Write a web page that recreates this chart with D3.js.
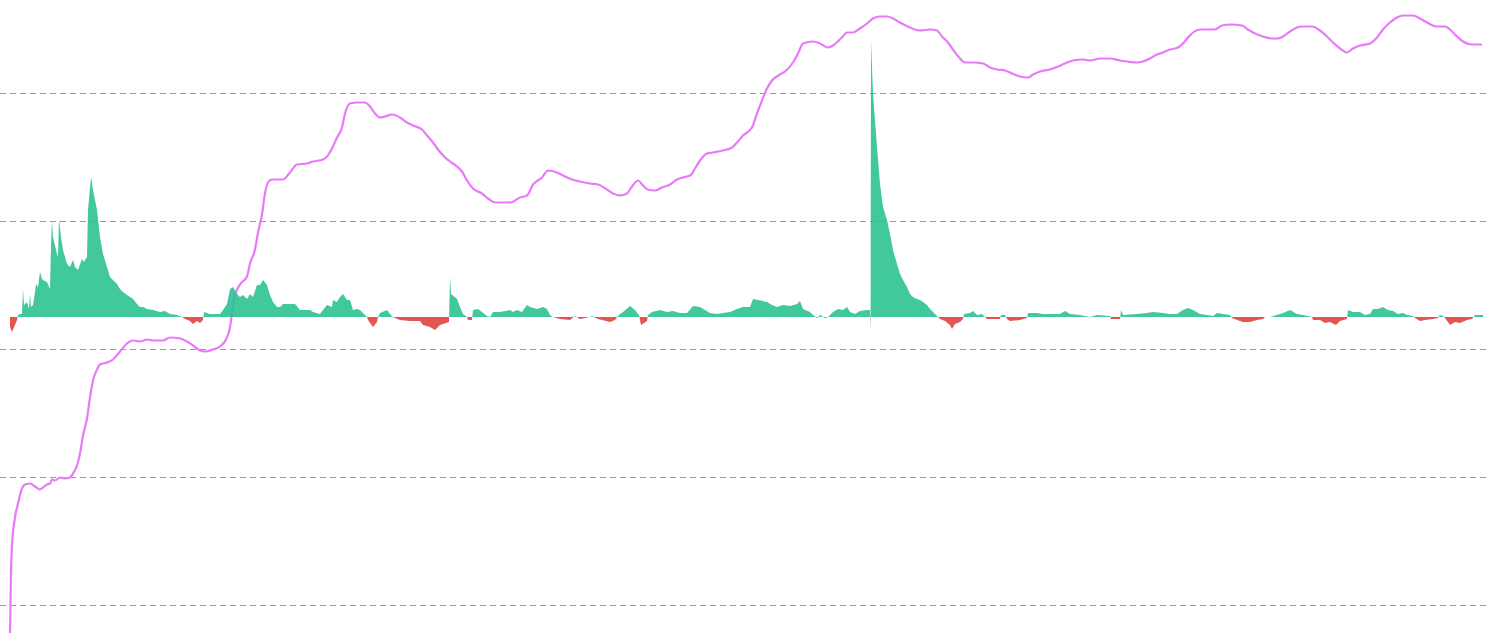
<!DOCTYPE html>
<html>
<head>
<meta charset="utf-8">
<script src="https://cdn.jsdelivr.net/npm/d3@7"></script>
<style>
  html, body { margin: 0; padding: 0; background: #ffffff; }
  svg { display: block; }
</style>
</head>
<body>
<svg id="chart" width="1490" height="633"></svg>
<script>
// ---- data ----
// day index along the time axis
const flowDays = [0,2,5,7,8,10,12,13,14,17,19,20,21,23,25,26,28,30,32,33,37,40,41,42,43,47,48,49,51,53,57,60,63,65,68,72,74,77,78,81,83,87,90,93,97,100,103,107,110,113,117,120,123,127,130,133,137,143,150,155,160,167,172,175,180,183,187,190,193,194,200,210,213,217,220,223,227,230,233,237,240,243,247,250,253,257,260,263,267,270,273,280,285,290,300,303,310,313,317,322,323,327,330,333,337,340,343,347,350,355,357,358,363,367,368,370,377,380,383,385,390,400,410,413,420,425,430,439,440,441,447,450,453,457,458,462,463,468,472,477,480,483,490,500,503,507,512,517,520,527,533,537,540,543,550,560,565,570,580,582,588,600,605,608,610,613,620,625,629,631,637,638,642,650,657,663,670,677,683,690,695,700,707,713,720,727,733,740,743,748,757,762,767,773,780,787,790,793,800,803,807,810,815,818,823,828,833,837,840,845,850,857,860,860.6,861,863,867,870,873,877,880,883,887,890,893,897,900,903,907,910,913,917,920,923,927,930,935,940,942,945,950,953,954,960,963,967,972,975,977,990,991,995,997,1000,1010,1017,1018,1027,1033,1043,1050,1055,1060,1070,1080,1087,1100,1101,1110,1111,1113,1127,1137,1143,1153,1160,1167,1173,1178,1183,1190,1197,1203,1207,1213,1220,1222,1230,1233,1240,1247,1253,1255,1260,1270,1273,1280,1287,1293,1302,1303,1310,1315,1320,1326,1330,1337,1338,1343,1350,1355,1360,1363,1368,1373,1378,1383,1388,1393,1397,1403,1405,1410,1415,1423,1428,1430,1433,1435,1440,1445,1450,1457,1462,1465,1473];
// net flow (positive = green, negative = red)
const flowValues = [-10,-15,-8,-3,2,3,3,28,12,15,8,23,10,12,25,33,30,45,38,37,35,28,70,97,80,63,60,98,80,67,53,50,57,50,47,58,55,60,107,140,127,107,80,63,50,40,37,33,28,25,22,20,18,13,10,10,8,7,5,6,3,2,0,-2,-4,-7,-4,-6,-3,5,3,3,7,13,28,30,23,20,22,18,23,20,32,32,37,32,22,15,10,10,13,13,13,7,7,5,3,7,12,10,17,15,20,23,17,17,7,8,7,2,0,-3,-10,-5,0,4,7,3,0,-1,-3,-4,-4,-8,-10,-13,-8,-5,40,23,18,10,3,0,-3,-3,7,8,5,1,0,5,5,7,5,7,5,12,10,8,10,8,2,0,-2,-3,1,-2,0,1,-2,-5,-3,1,3,5,11,7,2,-8,-4,2,5,7,5,6,4,4,11,10,7,4,3,4,5,8,10,10,18,17,15,12,10,12,11,13,16,8,5,2,-1,2,-1,0,5,8,7,10,5,3,6,7,7,-13,276,223,170,133,110,97,83,67,53,43,37,30,23,20,18,17,15,12,8,5,1,-2,-4,-8,-12,-7,-5,-2,3,4,6,2,3,0,-2,-2,2,2,-2,-4,-3,-1,4,4,3,3,3,6,3,2,0,2,1,-2,-2,7,2,3,4,5,4,3,3,7,9,7,3,2,1,4,3,2,-1,-4,-5,-5,-3,-2,0,0,3,4,7,3,2,0,-3,-3,-6,-5,-8,-4,-2,7,5,5,2,3,8,8,10,7,6,3,4,2,1,-1,-4,-3,-2,-1,2,1,-1,-8,-5,-6,-3,-2,2,2];
// price-like line
const priceDays = [0,1,2,5,8,12,15,20,25,30,33,37,40,42,45,50,55,60,63,67,70,73,77,80,83,87,90,97,103,110,117,123,130,137,143,153,160,170,177,183,190,195,203,210,217,220,222,225,230,237,240,245,248,252,255,258,262,273,280,287,297,303,313,317,322,327,332,335,340,347,355,360,365,370,375,382,390,397,403,412,417,423,428,435,440,447,452,457,463,472,478,485,500,510,517,523,532,538,547,553,562,570,580,588,597,603,610,617,622,628,633,638,645,652,660,667,673,680,685,690,697,703,713,722,727,733,742,747,752,757,762,770,775,783,788,793,803,810,818,823,832,837,843,850,857,863,870,877,883,890,900,910,920,927,932,938,945,950,955,963,973,980,987,995,1002,1010,1018,1023,1030,1040,1048,1055,1063,1073,1080,1090,1100,1110,1117,1127,1133,1140,1147,1153,1160,1168,1173,1178,1183,1190,1205,1212,1220,1232,1238,1245,1253,1262,1268,1273,1280,1287,1293,1302,1310,1317,1323,1330,1337,1343,1350,1360,1367,1373,1380,1387,1393,1403,1410,1417,1427,1435,1440,1447,1453,1462,1472];
const priceValues = [-28,32,60,88,102,117,121,122,119,116,118,121,122,126,125,128,127,128,132,140,152,170,187,208,225,236,241,243,246,254,262,265,264,266,265,265,268,267,264,260,255,254,256,259,268,278,292,310,321,329,342,356,373,391,412,423,426,426,433,441,442,444,446,449,457,468,478,492,502,503,503,499,492,488,489,491,488,483,480,476,470,463,456,448,444,439,434,425,417,412,407,403,403,408,410,421,428,435,433,430,426,424,422,421,416,412,410,412,419,425,420,416,415,418,421,426,428,430,437,445,452,453,455,458,463,470,478,492,505,517,525,531,534,543,552,562,564,562,558,560,568,573,573,577,582,587,589,589,587,583,578,575,576,575,569,563,553,547,543,543,542,538,536,535,532,529,528,531,534,536,539,542,545,546,545,547,547,545,544,543,544,547,551,553,556,558,562,568,573,576,576,580,581,580,576,572,569,567,567,569,574,578,579,579,575,569,563,557,553,557,560,562,568,576,583,588,590,590,587,583,579,579,576,569,564,561,561];
const gridTicks = [0, 128, 256, 384, 512];

// ---- chart ----
const W = 1490, H = 633;
const svg = d3.select("#chart");

const x = d3.scaleLinear().domain([0, 1473]).range([10, 1483]);
const yPrice = d3.scaleLinear().domain([0, 512]).range([605.5, 93.5]);
const yFlow = d3.scaleLinear().domain([0, 276]).range([317, 41]);

// grid
svg.append("g").selectAll("line").data(gridTicks).join("line")
  .attr("x1", 0).attr("x2", 1488)
  .attr("y1", d => yPrice(d)).attr("y2", d => yPrice(d))
  .attr("stroke", "#9a9a9a").attr("stroke-width", 1)
  .attr("stroke-dasharray", "6,4");

const defs = svg.append("defs");
defs.append("clipPath").attr("id", "plotClip").append("rect")
  .attr("x", 0).attr("y", 0).attr("width", W).attr("height", H);
defs.append("clipPath").attr("id", "posClip").append("rect")
  .attr("x", 0).attr("y", 0).attr("width", W).attr("height", yFlow(0));
defs.append("clipPath").attr("id", "negClip").append("rect")
  .attr("x", 0).attr("y", yFlow(0)).attr("width", W).attr("height", H - yFlow(0));

// price line
const priceData = priceDays.map((d, i) => [d, priceValues[i]]);
svg.append("path")
  .datum(priceData)
  .attr("clip-path", "url(#plotClip)")
  .attr("fill", "none")
  .attr("stroke", "#e879f9")
  .attr("stroke-width", 2.2)
  .attr("stroke-linejoin", "round")
  .attr("d", d3.line().x(d => x(d[0])).y(d => yPrice(d[1])).curve(d3.curveMonotoneX));

// flow area
const flowData = flowDays.map((d, i) => [d, flowValues[i]]);
const area = d3.area().x(d => x(d[0])).y0(yFlow(0)).y1(d => yFlow(d[1]));
svg.append("path").datum(flowData)
  .attr("clip-path", "url(#posClip)")
  .attr("fill", "#27c08e").attr("fill-opacity", 0.88)
  .attr("d", area);
svg.append("path").datum(flowData)
  .attr("clip-path", "url(#negClip)")
  .attr("fill", "#e04843").attr("fill-opacity", 0.92)
  .attr("d", area);
</script>
</body>
</html>
